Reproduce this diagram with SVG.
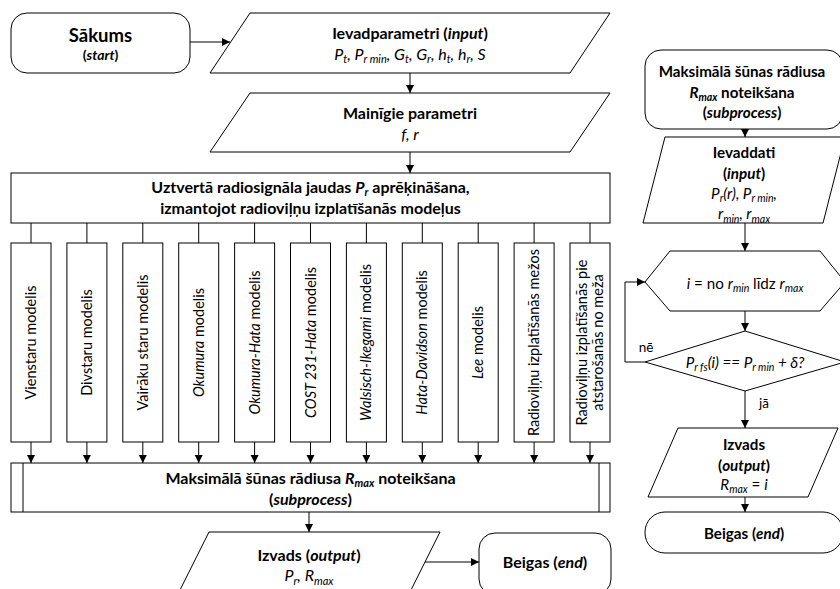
<svg xmlns="http://www.w3.org/2000/svg" width="840" height="589" viewBox="0 0 840 589">
<style>
.s{fill:#fff;stroke:#000;stroke-width:1}
.c{fill:none;stroke:#000;stroke-width:1}
text{font-family:Lato,"Noto Sans","Liberation Sans",sans-serif;font-size:16px;fill:#000;text-anchor:middle}
.b{font-weight:bold}
.i{font-style:italic}
.n{font-style:normal}
.sub{font-size:11px}
.m{font-size:14.5px}
.r{font-size:15.2px}
.r .sub{font-size:10.5px}
</style>
<defs>
<marker id="ah" markerUnits="userSpaceOnUse" markerWidth="9" markerHeight="9" refX="8" refY="4" orient="auto">
<path d="M0,0 L8,4 L0,8 z" fill="#000"/>
</marker>
</defs>

<g id="connectors" class="c">
<line x1="190" y1="42" x2="230" y2="42" marker-end="url(#ah)"/>
<line x1="410" y1="73" x2="410" y2="93" marker-end="url(#ah)"/>
<line x1="410" y1="152" x2="410" y2="173" marker-end="url(#ah)"/>
<line x1="31" y1="223" x2="31" y2="243"/>
<line x1="86.9" y1="223" x2="86.9" y2="243"/>
<line x1="142.8" y1="223" x2="142.8" y2="243"/>
<line x1="198.7" y1="223" x2="198.7" y2="243"/>
<line x1="254.6" y1="223" x2="254.6" y2="243"/>
<line x1="310.5" y1="223" x2="310.5" y2="243"/>
<line x1="366.4" y1="223" x2="366.4" y2="243"/>
<line x1="422.3" y1="223" x2="422.3" y2="243"/>
<line x1="478.2" y1="223" x2="478.2" y2="243"/>
<line x1="534.1" y1="223" x2="534.1" y2="243"/>
<line x1="590" y1="223" x2="590" y2="243"/>
<line x1="31" y1="442" x2="31" y2="463" marker-end="url(#ah)"/>
<line x1="86.9" y1="442" x2="86.9" y2="463" marker-end="url(#ah)"/>
<line x1="142.8" y1="442" x2="142.8" y2="463" marker-end="url(#ah)"/>
<line x1="198.7" y1="442" x2="198.7" y2="463" marker-end="url(#ah)"/>
<line x1="254.6" y1="442" x2="254.6" y2="463" marker-end="url(#ah)"/>
<line x1="310.5" y1="442" x2="310.5" y2="463" marker-end="url(#ah)"/>
<line x1="366.4" y1="442" x2="366.4" y2="463" marker-end="url(#ah)"/>
<line x1="422.3" y1="442" x2="422.3" y2="463" marker-end="url(#ah)"/>
<line x1="478.2" y1="442" x2="478.2" y2="463" marker-end="url(#ah)"/>
<line x1="534.1" y1="442" x2="534.1" y2="463" marker-end="url(#ah)"/>
<line x1="590" y1="442" x2="590" y2="463" marker-end="url(#ah)"/>
<line x1="309" y1="512" x2="309" y2="532" marker-end="url(#ah)"/>
<line x1="425" y1="562" x2="479" y2="562" marker-end="url(#ah)"/>
<line x1="745" y1="129" x2="745" y2="137" marker-end="url(#ah)"/>
<line x1="745" y1="223" x2="745" y2="251" marker-end="url(#ah)"/>
<line x1="745" y1="311" x2="745" y2="331" marker-end="url(#ah)"/>
<line x1="745" y1="391" x2="745" y2="428" marker-end="url(#ah)"/>
<polyline points="645,362 625,362 625,282 645,282" marker-end="url(#ah)"/>
<line x1="745" y1="497" x2="745" y2="512" marker-end="url(#ah)"/>
</g>

<g id="start">
<rect class="s" x="11" y="13" width="179" height="60" rx="16"/>
<text class="b" x="100.5" y="41.5" style="font-size:18.5px">Sākums</text>
<text class="b" x="100.5" y="60" style="font-size:14px">(<tspan class="i">start</tspan>)</text>
</g>

<g id="input">
<polygon class="s" points="250,13 610,13 570,73 210,73"/>
<text class="b" x="410" y="38.5">Ievadparametri (<tspan class="i">input</tspan>)</text>
<text class="i" x="410" y="59.5">P<tspan class="sub" dy="3.5">t</tspan><tspan dy="-3.5">, P</tspan><tspan class="sub" dy="3.5">r min</tspan><tspan dy="-3.5">, G</tspan><tspan class="sub" dy="3.5">t</tspan><tspan dy="-3.5">, G</tspan><tspan class="sub" dy="3.5">r</tspan><tspan dy="-3.5">, h</tspan><tspan class="sub" dy="3.5">t</tspan><tspan dy="-3.5">, h</tspan><tspan class="sub" dy="3.5">r</tspan><tspan dy="-3.5">, S</tspan></text>
</g>

<g id="variables">
<polygon class="s" points="250,93 610,93 570,152 210,152"/>
<text class="b" x="410" y="118.5">Mainīgie parametri</text>
<text class="i" x="410" y="139.5">f, r</text>
</g>

<g id="calc">
<rect class="s" x="11" y="173" width="599" height="50"/>
<text class="b" x="310.5" y="193">Uztvertā radiosignāla jaudas <tspan class="i">P</tspan><tspan class="i sub" dy="3">r</tspan><tspan dy="-3"> aprēķināšana,</tspan></text>
<text class="b" x="310.5" y="214">izmantojot radioviļņu izplatīšanās modeļus</text>
</g>

<g id="m1"><rect class="s" x="11" y="243" width="40" height="199"/><text class="m" transform="translate(31,342.5) rotate(-90)" y="5">Vienstaru modelis</text></g>
<g id="m2"><rect class="s" x="66.9" y="243" width="40" height="199"/><text class="m" transform="translate(86.9,342.5) rotate(-90)" y="5">Divstaru modelis</text></g>
<g id="m3"><rect class="s" x="122.8" y="243" width="40" height="199"/><text class="m" transform="translate(142.8,342.5) rotate(-90)" y="5">Vairāku staru modelis</text></g>
<g id="m4"><rect class="s" x="178.7" y="243" width="40" height="199"/><text class="m" transform="translate(198.7,342.5) rotate(-90)" y="5"><tspan class="i">Okumura</tspan> modelis</text></g>
<g id="m5"><rect class="s" x="234.6" y="243" width="40" height="199"/><text class="m" transform="translate(254.6,342.5) rotate(-90)" y="5"><tspan class="i">Okumura-Hata</tspan> modelis</text></g>
<g id="m6"><rect class="s" x="290.5" y="243" width="40" height="199"/><text class="m" transform="translate(310.5,342.5) rotate(-90)" y="5"><tspan class="i">COST 231-Hata</tspan> modelis</text></g>
<g id="m7"><rect class="s" x="346.4" y="243" width="40" height="199"/><text class="m" transform="translate(366.4,342.5) rotate(-90)" y="5"><tspan class="i">Walsisch-Ikegami</tspan> modelis</text></g>
<g id="m8"><rect class="s" x="402.3" y="243" width="40" height="199"/><text class="m" transform="translate(422.3,342.5) rotate(-90)" y="5"><tspan class="i">Hata-Davidson</tspan> modelis</text></g>
<g id="m9"><rect class="s" x="458.2" y="243" width="40" height="199"/><text class="m" transform="translate(478.2,342.5) rotate(-90)" y="5"><tspan class="i">Lee</tspan> modelis</text></g>
<g id="m10"><rect class="s" x="514.1" y="243" width="40" height="199"/><text class="m" transform="translate(534.1,342.5) rotate(-90)" y="5">Radioviļņu izplatīšanās mežos</text></g>
<g id="m11"><rect class="s" x="570" y="243" width="40" height="199"/><text class="m" transform="translate(582,342.5) rotate(-90)" y="5">Radioviļņu izplatīšanās pie</text><text class="m" transform="translate(598,342.5) rotate(-90)" y="5">atstarošanās no meža</text></g>

<g id="subprocess">
<rect class="s" x="11" y="463" width="599" height="49"/>
<line class="c" x1="23" y1="463" x2="23" y2="512"/>
<line class="c" x1="599" y1="463" x2="599" y2="512"/>
<text class="b" x="310.5" y="483.5">Maksimālā šūnas rādiusa <tspan class="i">R</tspan><tspan class="i sub" dy="3.5">max</tspan><tspan dy="-3.5"> noteikšana</tspan></text>
<text class="b" x="310.5" y="504.5">(<tspan class="i">subprocess</tspan>)</text>
</g>

<g id="output">
<polygon class="s" points="209,532 440,532 410,592 179,592"/>
<text class="b" x="309" y="560.5">Izvads (<tspan class="i">output</tspan>)</text>
<text class="i" x="309" y="581">P<tspan class="sub" dy="3.5">r</tspan><tspan dy="-3.5">, R</tspan><tspan class="sub" dy="3.5">max</tspan></text>
</g>

<g id="end">
<rect class="s" x="479" y="533" width="132" height="62" rx="16"/>
<text class="b" x="545" y="567.5">Beigas (<tspan class="i">end</tspan>)</text>
</g>

<g id="sub-start" class="r">
<rect class="s" x="645" y="50" width="198" height="79" rx="16"/>
<text class="b r" x="742" y="76.5">Maksimālā šūnas rādiusa</text>
<text class="b r" x="742" y="97.5"><tspan class="i">R</tspan><tspan class="i sub" dy="3.5">max</tspan><tspan dy="-3.5"> noteikšana</tspan></text>
<text class="b r" x="742" y="117.5">(<tspan class="i">subprocess</tspan>)</text>
</g>

<g id="sub-input" class="r">
<polygon class="s" points="665,137 845,137 823,223 643,223"/>
<text class="b r" x="744" y="157.5">Ievaddati</text>
<text class="b r" x="744" y="178.5">(<tspan class="i">input</tspan>)</text>
<text class="i r" x="744" y="198.5">P<tspan class="sub" dy="3.5">r</tspan><tspan dy="-3.5">(r), P</tspan><tspan class="sub" dy="3.5">r min</tspan><tspan dy="-3.5">,</tspan></text>
<text class="i r" x="744" y="219">r<tspan class="sub" dy="3.5">min</tspan><tspan dy="-3.5">, r</tspan><tspan class="sub" dy="3.5">max</tspan></text>
</g>

<g id="loop" class="r">
<polygon class="s" points="645,282 670,251 820,251 845,282 820,311 670,311"/>
<text class="r" x="745" y="288.5"><tspan class="i">i</tspan> = no <tspan class="i">r</tspan><tspan class="i sub" dy="3.5">min</tspan><tspan dy="-3.5"> līdz </tspan><tspan class="i">r</tspan><tspan class="i sub" dy="3.5">max</tspan></text>
</g>

<g id="decision" class="r">
<polygon class="s" points="645,362 745,331 845,362 745,391"/>
<text class="i r" x="745" y="367.5">P<tspan class="sub" dy="3.5">r fs</tspan><tspan dy="-3.5">(i) == P</tspan><tspan class="sub" dy="3.5">r min</tspan><tspan dy="-3.5"> + δ?</tspan></text>
<text x="646" y="352" style="font-size:13.5px">nē</text>
<text x="764" y="408" style="font-size:13.5px">jā</text>
</g>

<g id="sub-output" class="r">
<polygon class="s" points="678,428 838,428 808,497 648,497"/>
<text class="b r" x="744" y="449.5">Izvads</text>
<text class="b r" x="744" y="470.5">(<tspan class="i">output</tspan>)</text>
<text class="i r" x="744" y="489.5">R<tspan class="sub" dy="3.5">max</tspan><tspan class="n" dy="-3.5"> = </tspan><tspan>i</tspan></text>
</g>

<g id="sub-end" class="r">
<rect class="s" x="645" y="512" width="198" height="41" rx="20"/>
<text class="b r" x="744" y="538.5">Beigas (<tspan class="i">end</tspan>)</text>
</g>
</svg>
